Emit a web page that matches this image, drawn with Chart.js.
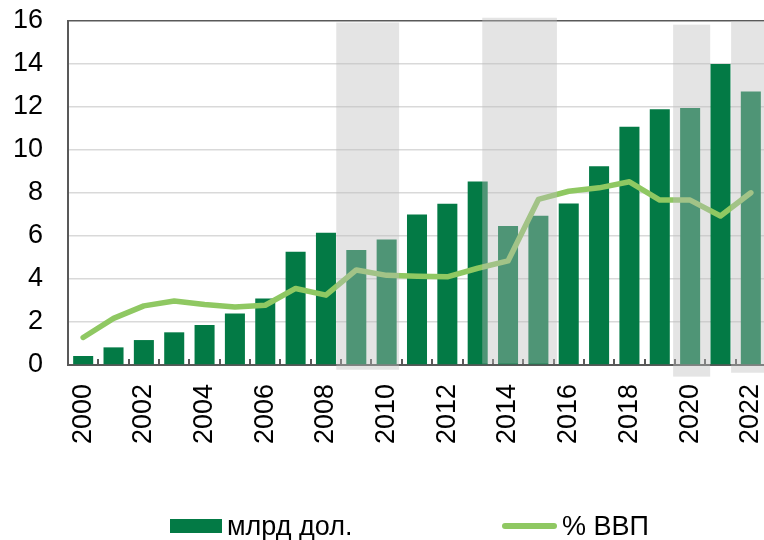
<!DOCTYPE html>
<html lang="ru">
<head>
    <meta charset="UTF-8">
    <title>млрд дол. / % ВВП</title>
    <script src="https://cdn.jsdelivr.net/npm/chart.js"></script>
    <style>
        html, body { margin: 0; padding: 0; background: #fff; overflow: hidden; }
        #wrap { position: relative; width: 766px; height: 540px; }
        .legend { position: absolute; top: 511px; font-family: "Liberation Sans", Arial, sans-serif; font-size: 27px; color: #000; display: flex; align-items: center; line-height: 30px; }
        .swatch-bar { width: 52px; height: 14px; background: #037A45; margin-right: 5px; }
        .swatch-line { width: 55px; height: 6px; border-radius: 3px; background: #8FC862; margin-right: 5px; }
    </style>
</head>
<body>
<div id="wrap">
    <canvas id="chart" width="766" height="540"></canvas>
    <div class="legend" style="left:170px;"><div class="swatch-bar"></div>млрд дол.</div>
    <div class="legend" style="left:502px;"><div class="swatch-line"></div>% ВВП</div>
</div>

<script>
    // Данные
    const years = ['2000','2001','2002','2003','2004','2005','2006','2007','2008','2009','2010','2011',
                   '2012','2013','2014','2015','2016','2017','2018','2019','2020','2021','2022'];
    const bnUsd = [0.42, 0.82, 1.16, 1.52, 1.86, 2.4, 3.09, 5.27, 6.15, 5.35, 5.84, 7.0,
                   7.5, 8.53, 6.46, 6.94, 7.51, 9.24, 11.08, 11.9, 11.95, 14.0, 12.72];
    const pctGdp = [1.28, 2.17, 2.75, 2.98, 2.81, 2.7, 2.78, 3.56, 3.25, 4.42, 4.17, 4.13,
                    4.1, 4.5, 4.84, 7.7, 8.08, 8.24, 8.52, 7.67, 7.67, 6.93, 8.01];
    // затенённые периоды (годы, как нарисованы в оригинале)
    const bandFrom = [2008.34, 2013.15, 2019.44, 2021.35];
    const bandTo   = [2010.41, 2015.61, 2020.66, 2022.6];
    const bandTop    = [15.93, 16.15, 15.83, 16.0];
    const bandBottom = [-0.22, 0.06, -0.54, -0.36];

    const axisColor = '#595959';

    // Серые полосы поверх столбцов
    const bandsPlugin = {
        id: 'bands',
        afterDatasetsDraw(chart) {
            const ctx = chart.ctx;
            const x = chart.scales.x, y = chart.scales.y;
            const x0 = x.getPixelForValue(0);
            const step = x.getPixelForValue(1) - x0;
            ctx.save();
            ctx.fillStyle = 'rgba(190,190,190,0.41)';
            for (let i = 0; i < bandFrom.length; i++) {
                const l = x0 + (bandFrom[i] - 2000) * step;
                const r = x0 + (bandTo[i] - 2000) * step;
                const t = y.getPixelForValue(bandTop[i]);
                const b = y.getPixelForValue(bandBottom[i]);
                ctx.fillRect(l, t, r - l, b - t);
            }
            ctx.restore();
        }
    };

    new Chart(document.getElementById('chart'), {
        type: 'bar',
        data: {
            labels: years,
            datasets: [{
                type: 'line',
                label: '% ВВП',
                data: pctGdp,
                borderColor: '#8FC862',
                borderWidth: 5.5,
                borderCapStyle: 'round',
                borderJoinStyle: 'round',
                pointRadius: 0,
                tension: 0,
                order: 0
            }, {
                label: 'млрд дол.',
                data: bnUsd,
                backgroundColor: '#037A45',
                categoryPercentage: 1,
                barPercentage: 0.66,
                order: 1
            }]
        },
        options: {
            responsive: false,
            animation: false,
            layout: { padding: { top: 21, right: 0, left: 0, bottom: 0 } },
            plugins: { legend: { display: false }, tooltip: { enabled: false } },
            scales: {
                x: {
                    grid: { drawOnChartArea: false, drawTicks: true, tickLength: -6, color: axisColor, lineWidth: 2 },
                    border: { display: true, color: axisColor, width: 2 },
                    ticks: {
                        autoSkip: false, minRotation: 90, maxRotation: 90, padding: 25,
                        color: '#000', font: { family: '"Liberation Sans", Arial', size: 27 },
                        callback: (v, i) => i % 2 === 0 ? years[i] : ''
                    },
                    afterFit: s => { s.height = 175; s.paddingLeft = 0; s.paddingRight = 0; }
                },
                y: {
                    min: 0, max: 16,
                    ticks: { stepSize: 2, padding: 25, color: '#000', font: { family: '"Liberation Sans", Arial', size: 27 } },
                    grid: { drawTicks: false, lineWidth: 1.5, color: c => c.tick.value === 16 ? axisColor : '#D9D9D9' },
                    border: { display: true, color: axisColor, width: 2 },
                    afterFit: s => { s.width = 68; s.paddingTop = 0; s.paddingBottom = 0; }
                }
            }
        },
        plugins: [bandsPlugin]
    });
</script>
</body>
</html>
